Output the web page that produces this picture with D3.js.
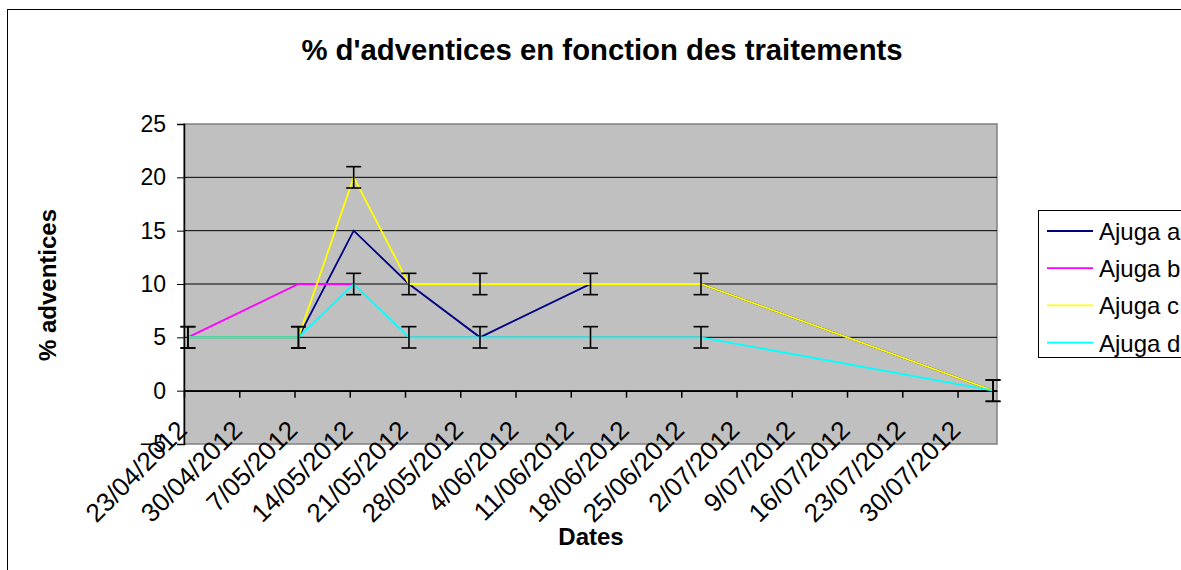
<!DOCTYPE html>
<html>
<head>
<meta charset="utf-8">
<script src="https://cdn.jsdelivr.net/npm/d3@7"></script>
<style>
  body { margin: 0; background: #fff; }
  svg { display: block; font-family: "Liberation Sans", Arial, sans-serif; }
</style>
</head>
<body>
<svg id="chart" width="1181" height="570"></svg>
<script>
// dates of the observations
const dates = ["23/04/2012", "7/05/2012", "14/05/2012", "21/05/2012", "30/05/2012", "13/06/2012", "27/06/2012", "3/08/2012"];

// % adventices for each treatment (null = no value)
const ajugaA = [5, 5, 15, 10, 5, 10, 10, 0];
const ajugaB = [5, 10, 10, null, null, null, null, null];
const ajugaC = [5, 5, 20, 10, 10, 10, 10, 0];
const ajugaD = [5, 5, 10, 5, 5, 5, 5, 0];

// error bars (+/-) on series c and d
const errorC = [1, 1, 1, 1, 1, 1, 1, 1];
const errorD = [1, 1, 1, 1, 1, 1, 1, 1];

const seriesNames = ["Ajuga a", "Ajuga b", "Ajuga c", "Ajuga d"];
const seriesColors = ["#000080", "#ff00ff", "#ffff00", "#00ffff"];

// axis ticks
const xTickLabels = ["23/04/2012", "30/04/2012", "7/05/2012", "14/05/2012", "21/05/2012", "28/05/2012", "4/06/2012",
    "11/06/2012", "18/06/2012", "25/06/2012", "2/07/2012", "9/07/2012", "16/07/2012", "23/07/2012", "30/07/2012"];
const yTicks = [-5, 0, 5, 10, 15, 20, 25];
const xDomain = ["23/04/2012", "4/08/2012"];

const parse = d3.timeParse("%d/%m/%Y");
const fmt = d3.timeFormat("%-d/%m/%Y");

const svg = d3.select("#chart");
const margin = { top: 124, left: 184, right: 1181 - 997, bottom: 570 - 444 };
const width = 1181 - margin.left - margin.right;
const height = 570 - margin.top - margin.bottom;

// chart frame
svg.append("rect")
    .attr("x", 7.5).attr("y", 9.5)
    .attr("width", 1300).attr("height", 700)
    .attr("fill", "#fff").attr("stroke", "#000").attr("stroke-width", 1);

// title
svg.append("text")
    .attr("x", 602).attr("y", 60)
    .attr("text-anchor", "middle")
    .style("font-size", "29.3px").style("font-weight", "bold")
    .text("% d'adventices en fonction des traitements");

const g = svg.append("g").attr("transform", `translate(${margin.left},${margin.top})`);

const x = d3.scaleTime()
    .domain(xDomain.map(parse))
    .range([0, width]);

const y = d3.scaleLinear()
    .domain([-5, 25])
    .range([height, 0]);

// points sit in the middle of their day
const px = s => x(d3.timeHour.offset(parse(s), 12));

// plot background
g.append("rect")
    .attr("width", width).attr("height", height)
    .attr("fill", "#c0c0c0").attr("stroke", "#808080").attr("stroke-width", 1.5);

// gridlines
g.append("g")
    .selectAll("line")
    .data(yTicks.filter(v => v > -5 && v < 25))
    .join("line")
    .attr("x1", 0).attr("x2", width)
    .attr("y1", d => y(d)).attr("y2", d => y(d))
    .attr("stroke", "#000").attr("stroke-width", 1);

// y axis
const yAxis = g.append("g")
    .call(d3.axisLeft(y).tickValues(yTicks).tickSize(7).tickPadding(11));
yAxis.select(".domain").attr("stroke", "#000").attr("stroke-width", 1.5);
yAxis.selectAll("text").style("font-size", "23px").attr("fill", "#000")
    .style("font-family", "'Liberation Sans', Arial, sans-serif");

// x axis on the 0 line
const xAxis = g.append("g")
    .attr("transform", `translate(0,${y(0)})`)
    .call(d3.axisBottom(x).tickValues(xTickLabels.map(parse)).tickFormat(fmt).tickSize(7).tickSizeOuter(0));
xAxis.select(".domain").attr("stroke", "#000").attr("stroke-width", 1.5);
xAxis.selectAll(".tick line").attr("stroke", "#000").attr("stroke-width", 1.5);
xAxis.selectAll("text")
    .attr("y", 0).attr("dy", 0)
    .attr("transform", "translate(4,41) rotate(-45)")
    .style("text-anchor", "end")
    .style("font-size", "26px")
    .style("font-family", "'Liberation Sans', Arial, sans-serif")
    .attr("fill", "#000");

// series lines
const allSeries = [ajugaA, ajugaB, ajugaC, ajugaD];
const line = d3.line()
    .defined(d => d.v !== null)
    .x(d => px(d.date))
    .y(d => y(d.v));

allSeries.forEach((vals, i) => {
    const pts = vals.map((v, j) => ({ date: dates[j], v }));
    g.append("path")
        .datum(pts)
        .attr("d", line)
        .attr("fill", "none")
        .attr("stroke", seriesColors[i])
        .attr("stroke-width", 1.8);
});

// error bars
const errs = [
    { vals: ajugaC, err: errorC },
    { vals: ajugaD, err: errorD }
];
errs.forEach(s => {
    const bars = s.vals.map((v, j) => ({ date: dates[j], v, e: s.err[j] }));
    const eb = g.append("g").attr("stroke", "#000").attr("stroke-width", 1.6);
    bars.forEach(b => {
        const cx = px(b.date);
        eb.append("line").attr("x1", cx).attr("x2", cx).attr("y1", y(b.v - b.e)).attr("y2", y(b.v + b.e));
        eb.append("line").attr("x1", cx - 7.5).attr("x2", cx + 7.5).attr("y1", y(b.v - b.e)).attr("y2", y(b.v - b.e));
        eb.append("line").attr("x1", cx - 7.5).attr("x2", cx + 7.5).attr("y1", y(b.v + b.e)).attr("y2", y(b.v + b.e));
    });
});

// axis titles
svg.append("text")
    .attr("x", 591).attr("y", 545)
    .attr("text-anchor", "middle")
    .style("font-size", "24px").style("font-weight", "bold")
    .text("Dates");

svg.append("text")
    .attr("transform", "translate(56,285) rotate(-90)")
    .attr("text-anchor", "middle")
    .style("font-size", "24px").style("font-weight", "bold")
    .text("% adventices");

// legend
const legend = svg.append("g").attr("transform", "translate(1038.5,210.5)");
legend.append("rect")
    .attr("width", 200).attr("height", 147)
    .attr("fill", "#fff").attr("stroke", "#000").attr("stroke-width", 1);
seriesNames.forEach((name, i) => {
    const ly = 20.5 + i * 37.2;
    legend.append("line")
        .attr("x1", 8.5).attr("x2", 54.5)
        .attr("y1", ly).attr("y2", ly)
        .attr("stroke", seriesColors[i]).attr("stroke-width", 1.8);
    legend.append("text")
        .attr("x", 60.5).attr("y", ly + 9)
        .style("font-size", "24px")
        .text(name);
});
</script>
</body>
</html>
